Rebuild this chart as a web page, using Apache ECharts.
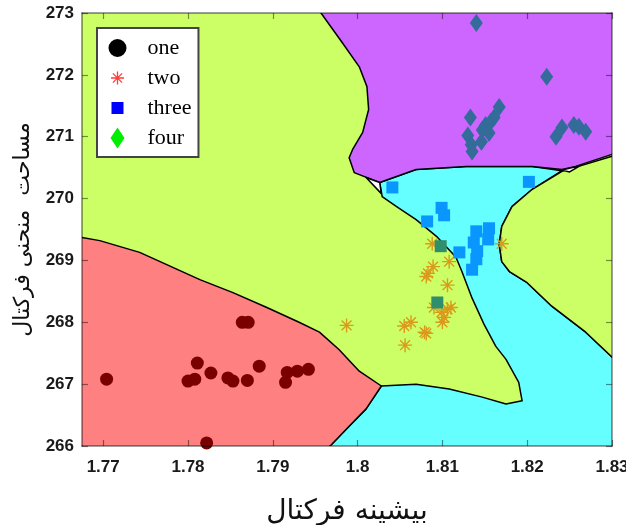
<!DOCTYPE html>
<html>
<head>
<meta charset="utf-8">
<script src="https://cdn.jsdelivr.net/npm/echarts@6/dist/echarts.min.js"></script>
<style>html,body{margin:0;padding:0;background:#fff;}#c{width:626px;height:525px;}</style>
</head>
<body>
<div id="c"></div>
<script>
// ---------- data ----------
const xTicks = [1.77, 1.78, 1.79, 1.80, 1.81, 1.82, 1.83];
const yTicks = [266, 267, 268, 269, 270, 271, 272, 273];
const xTitle = 'بیشینه فرکتال';
const yTitle = 'مساحت  منحنی فرکتال';
const seriesNames = ['one', 'two', 'three', 'four'];

const seriesOne = [
  [1.7704,267.08],[1.7800,267.05],[1.7808,267.08],[1.7811,267.34],[1.7827,267.18],
  [1.7847,267.10],[1.7853,267.05],[1.7870,267.06],[1.7884,267.29],[1.7864,268.00],
  [1.7871,268.00],[1.7915,267.03],[1.7917,267.19],[1.7929,267.21],[1.7942,267.24],
  [1.7822,266.05]
];
const seriesTwo = [
  [1.7987,267.95],[1.8055,267.94],[1.8063,268.00],[1.8079,267.84],[1.8081,267.82],
  [1.8056,267.63],[1.8088,269.27],[1.8170,269.27],[1.8089,268.90],[1.8108,268.98],
  [1.8083,268.79],[1.8081,268.74],[1.8106,268.60],[1.8090,268.24],[1.8106,268.21],
  [1.8110,268.24],[1.8099,268.16],[1.8102,268.08],[1.8100,268.00]
];
const seriesThree = [
  [1.8041,270.18],[1.8202,270.27],[1.8099,269.85],[1.8102,269.73],[1.8082,269.63],
  [1.8098,269.23],[1.8120,269.13],[1.8140,269.47],[1.8155,269.52],[1.8154,269.34],
  [1.8137,269.29],[1.8141,269.15],[1.8140,269.02],[1.8135,268.85],[1.8094,268.32]
];
const seriesFour = [
  [1.8140,272.84],[1.8223,271.97],[1.8167,271.48],[1.8133,271.31],[1.8130,271.02],
  [1.8134,270.87],[1.8135,270.76],[1.8147,271.11],[1.8151,271.19],[1.8157,271.24],
  [1.8161,271.31],[1.8146,270.92],[1.8155,271.06],[1.8241,271.15],[1.8234,271.00],
  [1.8255,271.19],[1.8261,271.16],[1.8269,271.08]
];

// decision-region boundaries (data coordinates)
const regionCyan = [
  [1.8026,270.26],[1.8069,270.47],[1.8128,270.52],[1.8206,270.52],[1.8241,270.45],
  [1.8206,270.15],[1.8182,269.87],[1.8170,269.55],[1.8167,269.26],[1.8170,268.98],
  [1.8179,268.82],[1.8199,268.65],[1.8229,268.26],[1.8269,267.84],[1.8299,267.45],
  [1.8308,267.34],[1.8308,265.87],[1.7957,265.87],[1.7969,266.02],[1.7990,266.32],
  [1.8010,266.60],[1.8028,266.97],[1.8069,267.00],[1.8108,266.92],[1.8147,266.79],
  [1.8175,266.68],[1.8194,266.73],[1.8190,267.03],[1.8175,267.40],[1.8163,267.61],
  [1.8149,267.97],[1.8135,268.39],[1.8123,268.82],[1.8116,269.05],[1.8093,269.39],
  [1.8069,269.66],[1.8046,269.87],[1.8029,270.03]
];
const regionRed = [
  [1.7655,269.37],[1.7675,269.37],[1.7696,269.32],[1.7743,269.13],[1.7814,268.69],
  [1.7853,268.48],[1.7893,268.24],[1.7931,268.00],[1.7955,267.84],[1.7978,267.56],
  [1.8002,267.21],[1.8028,266.97],[1.8010,266.60],[1.7990,266.32],[1.7969,266.02],
  [1.7957,265.87],[1.7655,265.87]
];
const regionPurple = [
  [1.7950,273.13],[1.7982,272.52],[1.8002,272.13],[1.8011,271.81],[1.8013,271.44],
  [1.8006,271.07],[1.7994,270.79],[1.7990,270.66],[1.7996,270.42],[1.8026,270.26],
  [1.8069,270.47],[1.8128,270.52],[1.8206,270.52],[1.8241,270.47],[1.8257,270.52],
  [1.8299,270.71],[1.8308,270.76],[1.8308,273.13]
];
const regionGreenRight = [
  [1.8308,270.73],[1.8299,270.68],[1.8241,270.44],[1.8206,270.15],[1.8182,269.87],
  [1.8170,269.55],[1.8167,269.26],[1.8170,268.98],[1.8179,268.82],[1.8199,268.65],
  [1.8229,268.26],[1.8269,267.84],[1.8299,267.45],[1.8308,267.34]
];
const gapLeft = [[1.8010,270.34],[1.8026,270.26],[1.8028,270.08]];
const gapRight = [[1.8241,270.46],[1.8262,270.53],[1.8250,270.43]];

// ---------- styling ----------
const regions = [regionCyan, regionRed, regionPurple, regionGreenRight, gapLeft, gapRight];
const regionFill = ['#66FFFF', '#FF8080', '#CC66FF', '#CCFF66', '#FFFFFF', '#FFFFFF'];
const COL_ONE = '#7A0000', COL_TWO = '#DA9A1C', COL_THREE = '#0A96FF', COL_THREE_G = '#2F8F6C', COL_FOUR = '#336C99';

function asterisk(cx, cy, L, w) {
  const dirs = [[1,0],[0,1],[Math.SQRT1_2,Math.SQRT1_2],[Math.SQRT1_2,-Math.SQRT1_2]];
  let p = '';
  dirs.forEach(u => {
    const n = [-u[1], u[0]];
    const pts = [
      [cx - L*u[0] - w*n[0], cy - L*u[1] - w*n[1]],
      [cx + L*u[0] - w*n[0], cy + L*u[1] - w*n[1]],
      [cx + L*u[0] + w*n[0], cy + L*u[1] + w*n[1]],
      [cx - L*u[0] + w*n[0], cy - L*u[1] + w*n[1]]
    ];
    p += 'M' + pts.map(q => q[0].toFixed(3) + ',' + q[1].toFixed(3)).join('L') + 'Z';
  });
  return p;
}
const frame = 'M0,0h0.01v0.01h-0.01zM20.99,20.99h0.01v0.01h-0.01z';
const iconOne = 'path://M1.5,10.5A9,9,0,1,1,19.5,10.5A9,9,0,1,1,1.5,10.5Z' + frame;
const iconTwo = 'path://' + asterisk(10.5, 10.5, 6.5, 0.65) + frame;
const iconThree = 'path://M4.5,4.5h12v12h-12z' + frame;
const iconFour = 'path://M10.5,0L17.5,10.5L10.5,21L3.5,10.5Z' + frame;
const symTwo = 'path://' + asterisk(0, 0, 7, 0.7);

function inside(pt, poly) {
  let c = false;
  for (let i = 0, j = poly.length - 1; i < poly.length; j = i++) {
    const a = poly[i], b = poly[j];
    if ((a[1] > pt[1]) !== (b[1] > pt[1]) &&
        pt[0] < (b[0] - a[0]) * (pt[1] - a[1]) / (b[1] - a[1]) + a[0]) c = !c;
  }
  return c;
}

const labelFont = {fontFamily: '"Liberation Sans Narrow", "Arial Narrow", sans-serif', fontWeight: 'bold', fontSize: 17, color: '#1a1a1a'};
const axisLineStyle = {lineStyle: {color: 'rgba(0,0,0,0.5)', width: 1.5}};
const tickStyle = {show: true, inside: true, length: 6, lineStyle: {color: 'rgba(0,0,0,0.45)', width: 1.2}};

const chart = echarts.init(document.getElementById('c'), null, {renderer: 'canvas'});
chart.setOption({
  animation: false,
  backgroundColor: '#fff',
  grid: {left: 82, top: 13, width: 530, height: 433, show: true, backgroundColor: '#CCFF66', borderWidth: 0,
         containLabel: false, outerBoundsMode: 'none'},
  xAxis: [{
    type: 'value', min: 1.7675, max: 1.83, position: 'bottom', z: 10,
    axisLine: axisLineStyle, splitLine: {show: false},
    axisTick: Object.assign({customValues: xTicks}, tickStyle),
    axisLabel: Object.assign({customValues: xTicks, margin: 13, formatter: v => String(+(+v).toFixed(2))}, labelFont),
    name: xTitle, nameLocation: 'middle', nameGap: 52,
    nameTextStyle: {fontFamily: '"DejaVu Sans", sans-serif', fontSize: 28, color: '#111'}
  }, {
    type: 'value', min: 1.7675, max: 1.83, position: 'top', z: 10,
    axisLine: axisLineStyle, splitLine: {show: false},
    axisTick: Object.assign({customValues: xTicks}, tickStyle),
    axisLabel: {show: false}
  }],
  yAxis: [{
    type: 'value', min: 266, max: 273, interval: 1, position: 'left', z: 10,
    axisLine: axisLineStyle, splitLine: {show: false},
    axisTick: tickStyle,
    axisLabel: Object.assign({margin: 8}, labelFont),
    name: yTitle, nameLocation: 'middle', nameGap: 41, nameRotate: 90,
    nameTextStyle: {fontFamily: '"DejaVu Sans", sans-serif', fontSize: 22, color: '#111'}
  }, {
    type: 'value', min: 266, max: 273, interval: 1, position: 'right', z: 10,
    axisLine: axisLineStyle, splitLine: {show: false},
    axisTick: tickStyle, axisLabel: {show: false}
  }],
  legend: {
    orient: 'vertical', left: 97, top: 28, z: 20,
    padding: [9, 7, 8, 10], itemGap: 8, itemWidth: 50, itemHeight: 21,
    backgroundColor: '#fff', borderColor: '#444', borderWidth: 2, borderRadius: 0,
    selectedMode: false,
    textStyle: {fontFamily: '"Liberation Serif", "Times New Roman", serif', fontSize: 22, color: '#000', lineHeight: 21},
    data: [
      {name: seriesNames[0], icon: iconOne, itemStyle: {color: '#000'}},
      {name: seriesNames[1], icon: iconTwo, itemStyle: {color: '#FF3B3B'}},
      {name: seriesNames[2], icon: iconThree, itemStyle: {color: '#0000FF'}},
      {name: seriesNames[3], icon: iconFour, itemStyle: {color: '#00EE00'}}
    ]
  },
  series: [{
    type: 'custom', name: 'regions', silent: true, clip: true, z: 1,
    data: regions.map((r, i) => [1.8, 270, i]),
    encode: {x: 0, y: 1},
    renderItem: function (params, api) {
      const i = api.value(2);
      const cs = params.coordSys;
      return {
        type: 'polygon',
        shape: {points: regions[i].map(p => api.coord(p))},
        style: {fill: regionFill[i], stroke: '#000', lineWidth: 1.5, lineJoin: 'round'},
        clipPath: {type: 'rect', shape: {x: cs.x, y: cs.y, width: cs.width, height: cs.height}}
      };
    }
  }, {
    type: 'scatter', name: seriesNames[0], z: 3, data: seriesOne,
    symbol: 'circle', symbolSize: 13, itemStyle: {color: COL_ONE, opacity: 1}
  }, {
    type: 'scatter', name: seriesNames[1], z: 3, data: seriesTwo,
    symbol: symTwo, symbolSize: 14, itemStyle: {color: COL_TWO, opacity: 1}
  }, {
    type: 'scatter', name: seriesNames[2], z: 4,
    data: seriesThree.map(p => ({value: p, itemStyle: {color: inside(p, regionCyan) ? COL_THREE : COL_THREE_G}})),
    symbol: 'rect', symbolSize: 12, itemStyle: {color: COL_THREE, opacity: 1}
  }, {
    type: 'scatter', name: seriesNames[3], z: 3, data: seriesFour,
    symbol: 'diamond', symbolSize: [13, 18], itemStyle: {color: COL_FOUR, opacity: 1}
  }]
});
</script>
</body>
</html>
